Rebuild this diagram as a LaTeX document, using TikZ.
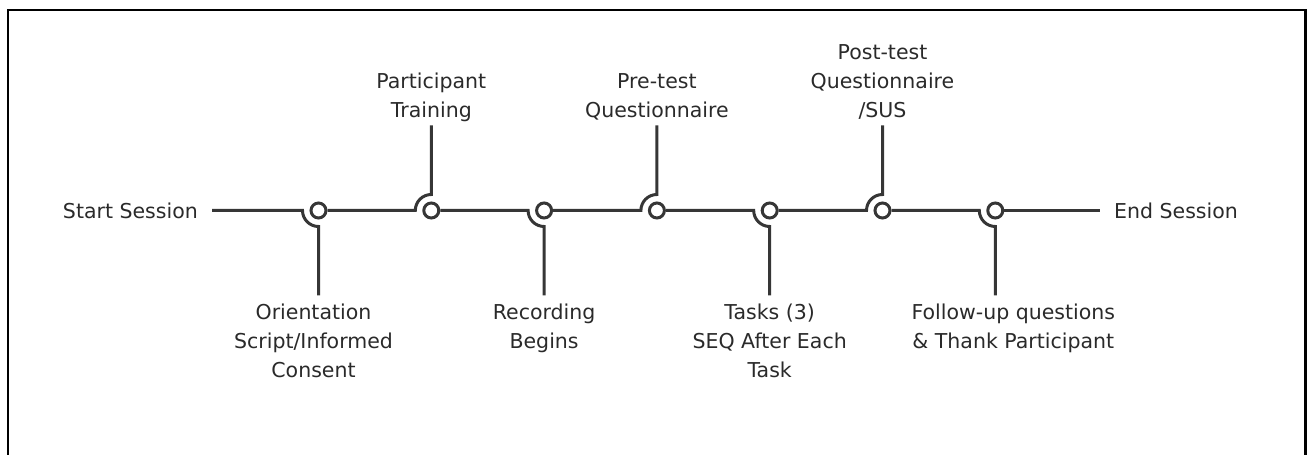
\documentclass[tikz,border=0pt]{standalone}
\usepackage{fontspec}
\setmainfont{DejaVu Sans}
\usetikzlibrary{positioning}
\definecolor{linegray}{HTML}{363636}
\definecolor{textgray}{HTML}{2A2A2A}

\begin{document}
\begin{tikzpicture}[x=1pt, y=1pt, node distance=112.8pt, on grid,
    dot/.style = {draw=linegray, circle, line width=3pt, minimum size=15pt, inner sep=0pt, fill=white},
    stage/.style = {align=center, text=textgray, font=\fontsize{20.5}{29}\selectfont, inner xsep=0pt, inner ysep=8pt, text depth=0pt},
    side/.style = {text=textgray, font=\fontsize{20.5}{29}\selectfont, inner xsep=14pt, inner ysep=0pt},
    link/.style = {draw=linegray, line width=3pt},]
    \useasboundingbox (0,0) rectangle (1307,455);
    \draw[line width=2.5pt] (8,0) -- (8,445) -- (1305.5,445) -- (1305.5,0);
    \node [dot] (d1) at (318.5,244.5) {};
    \node [dot, right=of d1] (d2) {};
    \node [dot, right=of d2] (d3) {};
    \node [dot, right=of d3] (d4) {};
    \node [dot, right=of d4] (d5) {};
    \node [dot, right=of d5] (d6) {};
    \node [dot, right=of d6] (d7) {};
    \node [side, anchor=east] (start) at (212,244.5) {Start Session};
    \node [side, anchor=west] (finish) at (1100,244.5) {End Session};
    \node [stage, below=85pt of d1, anchor=north, xshift=-5pt] (orient) {Orientation\\Script/Informed\\Consent};
    \node [stage, above=85pt of d2, anchor=south] (train) {Participant\\Training};
    \node [stage, below=85pt of d3, anchor=north] (record) {Recording\\Begins};
    \node [stage, above=85pt of d4, anchor=south] (pretest) {Pre-test\\Questionnaire};
    \node [stage, below=85pt of d5, anchor=north] (tasks) {Tasks (3)\\SEQ After Each\\Task};
    \node [stage, above=85pt of d6, anchor=south] (posttest) {Post-test\\Questionnaire\\/SUS};
    \node [stage, below=85pt of d7, anchor=north, xshift=18pt] (thanks) {Follow-up questions\\\& Thank Participant};
    \draw[link] (start.east) -- ([xshift=-16pt]d1.center) arc[start angle=180, end angle=270, radius=16pt] -- (d1 |- orient.north);
    \draw[link] (d1.east) -- ([xshift=-16pt]d2.center) arc[start angle=180, end angle=90, radius=16pt] -- (d2 |- train.south);
    \draw[link] (d2.east) -- ([xshift=-16pt]d3.center) arc[start angle=180, end angle=270, radius=16pt] -- (d3 |- record.north);
    \draw[link] (d3.east) -- ([xshift=-16pt]d4.center) arc[start angle=180, end angle=90, radius=16pt] -- (d4 |- pretest.south);
    \draw[link] (d4.east) -- ([xshift=-16pt]d5.center) arc[start angle=180, end angle=270, radius=16pt] -- (d5 |- tasks.north);
    \draw[link] (d5.east) -- ([xshift=-16pt]d6.center) arc[start angle=180, end angle=90, radius=16pt] -- (d6 |- posttest.south);
    \draw[link] (d6.east) -- ([xshift=-16pt]d7.center) arc[start angle=180, end angle=270, radius=16pt] -- (d7 |- thanks.north);
    \draw[link] (d7.east) -- (finish.west);
  \end{tikzpicture}
\end{document}
